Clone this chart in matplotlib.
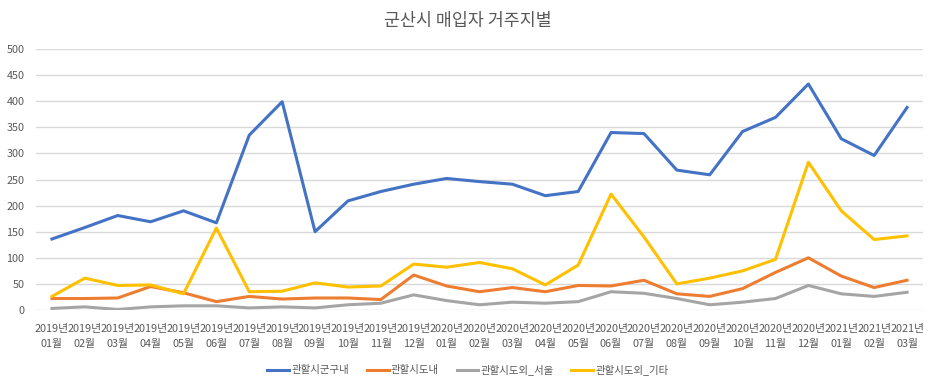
import matplotlib
matplotlib.use("Agg")
import matplotlib.pyplot as plt

plt.rcParams['font.family'] = ['Noto Sans CJK KR', 'DejaVu Sans']

months = ['2019년\n01월', '2019년\n02월', '2019년\n03월', '2019년\n04월', '2019년\n05월', '2019년\n06월',
          '2019년\n07월', '2019년\n08월', '2019년\n09월', '2019년\n10월', '2019년\n11월', '2019년\n12월',
          '2020년\n01월', '2020년\n02월', '2020년\n03월', '2020년\n04월', '2020년\n05월', '2020년\n06월',
          '2020년\n07월', '2020년\n08월', '2020년\n09월', '2020년\n10월', '2020년\n11월', '2020년\n12월',
          '2021년\n01월', '2021년\n02월', '2021년\n03월']

in_city = [136, 158, 181, 169, 190, 167, 335, 399, 150, 209, 227, 241,
           252, 246, 241, 219, 227, 340, 338, 268, 259, 342, 369, 433,
           328, 296, 388]
in_province = [22, 22, 23, 45, 33, 16, 26, 21, 23, 23, 20, 67,
               46, 35, 43, 35, 47, 46, 57, 31, 26, 41, 72, 100,
               65, 43, 57]
seoul = [3, 6, 1, 6, 8, 8, 4, 6, 4, 10, 13, 29,
         18, 10, 15, 13, 16, 35, 32, 22, 10, 15, 22, 47,
         31, 26, 34]
other = [26, 61, 47, 48, 31, 157, 35, 36, 52, 44, 46, 88,
         82, 91, 79, 48, 86, 222, 140, 50, 61, 75, 97, 283,
         190, 135, 142]

names = ['관할시군구내', '관할시도내', '관할시도외_서울', '관할시도외_기타']
colors = ['#4472C4', '#ED7D31', '#A5A5A5', '#FFC000']
txt = '#595959'

fig = plt.figure(figsize=(9.36, 3.87), dpi=100)
ax = fig.add_axes([35.5/936, 77/387, 888/936, 261/387])

x = list(range(len(months)))
for vals, name, c in zip([in_city, in_province, seoul, other], names, colors):
    ax.plot(x, vals, color=c, lw=2.2, label=name, solid_joinstyle='round')

ax.set_xlim(-0.5, len(months) - 0.5)
ax.set_ylim(0, 500)
ax.set_yticks(range(0, 501, 50))
ax.set_xticks(x)
ax.set_xticklabels(months, linespacing=1.6)
ax.tick_params(axis='both', length=0, labelsize=7.8, colors=txt)
ax.tick_params(axis='x', pad=10)
ax.tick_params(axis='y', pad=8)
ax.grid(axis='y', color='#D9D9D9', lw=1)
ax.set_axisbelow(True)
for s in ax.spines.values():
    s.set_visible(False)

fig.suptitle('군산시 매입자 거주지별', x=0.5, y=1 - 21/387, va='center', fontsize=12.5, color=txt)
fig.legend(loc='center', bbox_to_anchor=(0.5, 17/387), ncol=4, frameon=False,
           fontsize=7.5, labelcolor=txt, handlelength=2.1, handletextpad=0.2,
           columnspacing=1.7)

fig.savefig('out.png', dpi=100)
